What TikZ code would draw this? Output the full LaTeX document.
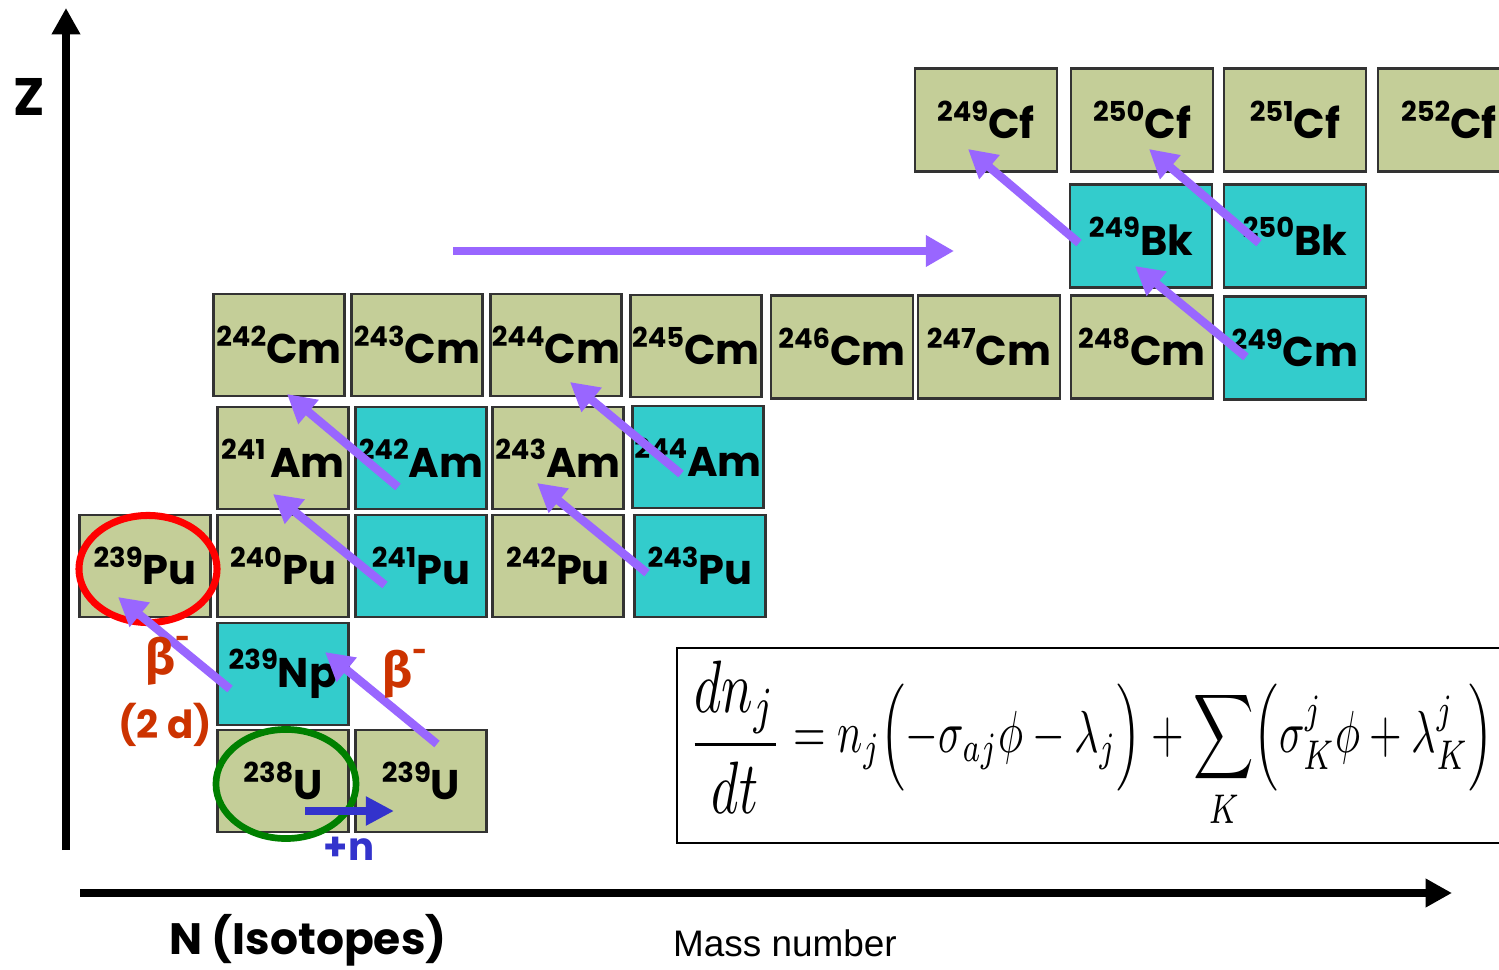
\documentclass[tikz,border=0pt]{standalone}
\usepackage{fontspec}
\usepackage{graphicx}
\usetikzlibrary{arrows.meta}
\newfontfamily\comic{Poppins}
\newfontfamily\greekfont{Fira Sans}
\newfontfamily\helv{Liberation Sans}
\definecolor{khaki}{RGB}{196,206,152}
\definecolor{tealbox}{RGB}{51,204,204}
\definecolor{flow}{RGB}{153,102,255}
\definecolor{capture}{RGB}{51,51,204}
\definecolor{decay}{RGB}{204,51,0}
\definecolor{ringgreen}{RGB}{0,128,0}
\newcommand{\iso}[2]{\raisebox{0.5em}{\fontsize{7.8}{8}\selectfont#1}\fontsize{11.8}{12}\selectfont#2}

\begin{document}
\begin{tikzpicture}[x=0.01cm,y=-0.01cm,
  nuc/.style={draw=black!80,line width=0.7pt,fill=khaki,minimum width=1.31cm,minimum height=1.02cm,inner sep=0pt,font=\comic\bfseries},
  wide/.style={minimum width=1.42cm,minimum height=1.03cm},
  unstable/.style={fill=tealbox},
  flowarrow/.style={flow,line width=2.4pt,-{Triangle[length=8pt,width=8.5pt]}},
  axis/.style={line width=2pt,-{Triangle[length=7.5pt,width=7.7pt]}},
  lab/.style={font=\comic\bfseries\fontsize{11}{12}\selectfont}]
\useasboundingbox (0,0) rectangle (1499,970);
\clip (0,0) rectangle (1499,970);
\coordinate (zfoot) at (66,850);
\coordinate (ztip) at (66,8);
\coordinate (nfoot) at (80,893);
\coordinate (ntip) at (1452,893);
\draw[axis] (zfoot) -- (ztip);
\draw[axis] (nfoot) -- (ntip);
\node[font=\comic\bfseries\fontsize{15}{15}\selectfont] (zlab) at (29,97) {Z};
\node[font=\comic\bfseries\fontsize{12.5}{13}\selectfont] (nlab) at (308,940) {N (Isotopes)};
\node[font=\helv\fontsize{10.5}{12}\selectfont] (mlab) at (785,943) {Mass number};
\node[nuc] (pu239) at (145,566) {\iso{239}{Pu}};
\node[nuc] (pu240) at (283,566) {\iso{240}{Pu}};
\node[nuc,unstable] (pu241) at (421,566) {\iso{241}{Pu}};
\node[nuc] (pu242) at (558,566) {\iso{242}{Pu}};
\node[nuc,unstable] (pu243) at (700,566) {\iso{243}{Pu}};
\node[nuc] (am241) at (283,458) {\iso{241\,}{Am}};
\node[nuc,unstable] (am242) at (421,458) {\iso{242}{Am}};
\node[nuc] (am243) at (558,458) {\iso{243}{Am}};
\node[nuc,unstable] (am244) at (698,457) {\iso{244}{Am}};
\node[nuc] (cm242) at (279,345) {\iso{242}{Cm}};
\node[nuc] (cm243) at (417,345) {\iso{243}{Cm}};
\node[nuc] (cm244) at (556,345) {\iso{244}{Cm}};
\node[nuc] (cm245) at (696,346) {\iso{245}{Cm}};
\node[nuc,wide] (cm246) at (842,347) {\iso{246}{Cm}};
\node[nuc,wide] (cm247) at (989,347) {\iso{247}{Cm}};
\node[nuc,wide] (cm248) at (1142,347) {\iso{248}{Cm}};
\node[nuc,wide,unstable] (cm249) at (1295,348) {\iso{249}{Cm}};
\node[nuc,wide,unstable] (bk249) at (1141,236) {\iso{249}{Bk}};
\node[nuc,wide,unstable] (bk250) at (1295,236) {\iso{250}{Bk}};
\node[nuc,wide] (cf249) at (986,120) {\iso{249}{Cf}};
\node[nuc,wide] (cf250) at (1142,120) {\iso{250}{Cf}};
\node[nuc,wide] (cf251) at (1295,120) {\iso{251}{Cf}};
\node[nuc,wide] (cf252) at (1449,120) {\iso{252}{Cf}};
\node[nuc,unstable] (np239) at (283,674) {\iso{239}{Np}};
\node[nuc] (u238) at (283,781) {\iso{238}{U}};
\node[nuc] (u239) at (421,781) {\iso{239}{U}};
\draw[red,line width=2pt] (148,569) ellipse [x radius=0.69cm,y radius=0.535cm];
\draw[ringgreen,line width=1.9pt] (286,784) ellipse [x radius=0.70cm,y radius=0.545cm];
\coordinate (np239a) at (230,689); \coordinate (pu239a) at (118,597);
\coordinate (u239a) at (437,744); \coordinate (np239b) at (325,652);
\coordinate (pu241a) at (385,585); \coordinate (am241a) at (273,494);
\coordinate (am242a) at (398,487); \coordinate (cm242a) at (287,394);
\coordinate (pu243a) at (647,573); \coordinate (am243a) at (537,483);
\coordinate (am244a) at (681,474); \coordinate (cm244a) at (570,382);
\coordinate (bk249a) at (1079,243); \coordinate (cf249a) at (968,149);
\coordinate (bk250a) at (1259,243); \coordinate (cf250a) at (1149,149);
\coordinate (cm249a) at (1246,357); \coordinate (bk249b) at (1135,266);
\coordinate (jumpa) at (453,251); \coordinate (jumpb) at (954,251);
\foreach \s/\t in {np239a/pu239a,u239a/np239b,pu241a/am241a,am242a/cm242a,pu243a/am243a,am244a/cm244a,bk249a/cf249a,bk250a/cf250a,cm249a/bk249b,jumpa/jumpb}
  \draw[flowarrow] (\s) -- (\t);
\coordinate (u238n) at (305,811); \coordinate (u239n) at (394,811);
\draw[capture,line width=2.3pt,-{Triangle[length=8pt,width=7.8pt]}] (u238n) -- (u239n);
\node[lab,text=capture] (plusn) at (349,849) {+n};
\node[text=decay,font=\greekfont\bfseries\fontsize{14}{14}\selectfont] (beta1) at (168,661) {β\raisebox{0.5em}{\fontsize{10}{10}\selectfont -}};
\node[text=decay,font=\greekfont\bfseries\fontsize{14}{14}\selectfont] (beta2) at (405,674) {β\raisebox{0.5em}{\fontsize{10}{10}\selectfont -}};
\node[lab,text=decay] (halflife) at (165,725) {(2 d)};
\draw[line width=0.7pt] (677,648) rectangle (1510,843);
\node (eq) at (1091,745) {\resizebox*{8.05cm}{1.68cm}{$\vcenter{\hbox{\scalebox{1.25}{$\displaystyle\frac{dn_j}{dt}$}}}=n_j\Bigl(-\sigma_{aj}\phi-\lambda_j\Bigr)+\displaystyle\sum_K\Bigl(\sigma_K^j\phi+\lambda_K^j\Bigr)$}};
\end{tikzpicture}
\end{document}
